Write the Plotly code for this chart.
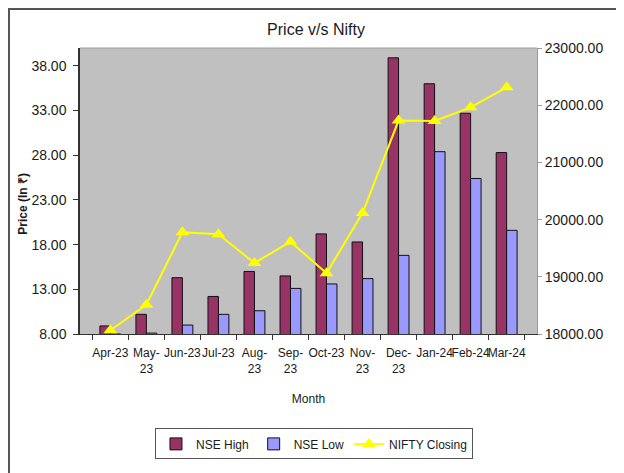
import plotly.graph_objects as go

months = ["Apr-23", "May-<br>23", "Jun-23", "Jul-23", "Aug-<br>23", "Sep-<br>23",
          "Oct-23", "Nov-<br>23", "Dec-<br>23", "Jan-24", "Feb-24", "Mar-24"]
nse_high = [8.9, 10.2, 14.3, 12.2, 15.0, 14.5, 19.2, 18.3, 38.9, 36.0, 32.7, 28.3]
nse_low = [8.0, 8.1, 9.0, 10.2, 10.6, 13.1, 13.6, 14.2, 16.8, 28.4, 25.4, 19.6]
nifty_closing = [18065, 18512, 19778, 19743, 19241, 19614, 19061, 20115, 21731, 21725, 21963, 22313]

left_ticks = [8, 13, 18, 23, 28, 33, 38]
right_ticks = [18000, 19000, 20000, 21000, 22000, 23000]

FONT = "Liberation Sans, Arial, sans-serif"
TXT = "#1a1a1a"

fig = go.Figure()
fig.add_trace(go.Bar(
    x=months, y=nse_high, name="NSE High",
    marker=dict(color="#993366", line=dict(color="#111111", width=1)),
))
fig.add_trace(go.Bar(
    x=months, y=nse_low, name="NSE Low",
    marker=dict(color="#9999FF", line=dict(color="#111111", width=1)),
))
fig.add_trace(go.Scatter(
    x=months, y=nifty_closing, name="NIFTY Closing", yaxis="y2",
    mode="lines+markers",
    line=dict(color="#FFFF00", width=2),
    marker=dict(symbol="triangle-up", size=12, color="#FFFF00"),
))

fig.update_layout(
    width=616, height=465,
    margin=dict(l=72, r=87, t=40, b=139),
    paper_bgcolor="white",
    plot_bgcolor="#C0C0C0",
    font=dict(family=FONT, size=12, color=TXT),
    barmode="group", bargap=0.42, bargroupgap=0,
    title=dict(text="Price v/s Nifty", x=0.5, xanchor="center", y=0.953, yanchor="middle",
               font=dict(size=16, color=TXT)),
    xaxis=dict(
        title=dict(text="Month", font=dict(size=12), standoff=19),
        tickfont=dict(size=12), showgrid=False,
        showline=True, linecolor="#333333", linewidth=1,
        ticks="outside", ticklen=5, tickcolor="#333333", tickson="boundaries",
        tickangle=0, ticklabelstandoff=8,
    ),
    yaxis=dict(
        range=[8, 40], tickvals=left_ticks, tickformat=".2f",
        tickfont=dict(size=14), showgrid=False, zeroline=False,
        showline=True, linecolor="#333333", linewidth=1.5,
        ticks="outside", ticklen=5, tickcolor="#333333", ticklabelstandoff=4,
    ),
    yaxis2=dict(
        range=[18000, 23000], tickvals=right_ticks, tickformat=".2f",
        tickfont=dict(size=14), overlaying="y", side="right",
        showgrid=False, zeroline=False,
        showline=True, linecolor="#999999", linewidth=1,
        ticks="outside", ticklen=4, tickcolor="#999999",
    ),
    legend=dict(
        orientation="h", x=0.512, xanchor="center", y=-0.33, yanchor="top",
        bordercolor="#555555", borderwidth=1, bgcolor="white",
        font=dict(size=12), traceorder="normal",
    ),
    annotations=[dict(
        text="<b>Price (In ₹)</b>", textangle=-90, xref="paper", yref="paper",
        x=-0.125, y=0.455, xanchor="center", yanchor="middle",
        showarrow=False, font=dict(size=12, color=TXT),
    )],
    shapes=[
        dict(type="line", xref="paper", yref="paper", x0=0, x1=1, y0=1, y1=1,
             line=dict(color="#A0A0A0", width=1)),
        dict(type="rect", xref="paper", yref="paper", x0=-0.1554, x1=1.3, y0=-1.0, y1=1.1364,
             line=dict(color="#555555", width=2), layer="above"),
    ],
)

fig.write_html("out.html")
